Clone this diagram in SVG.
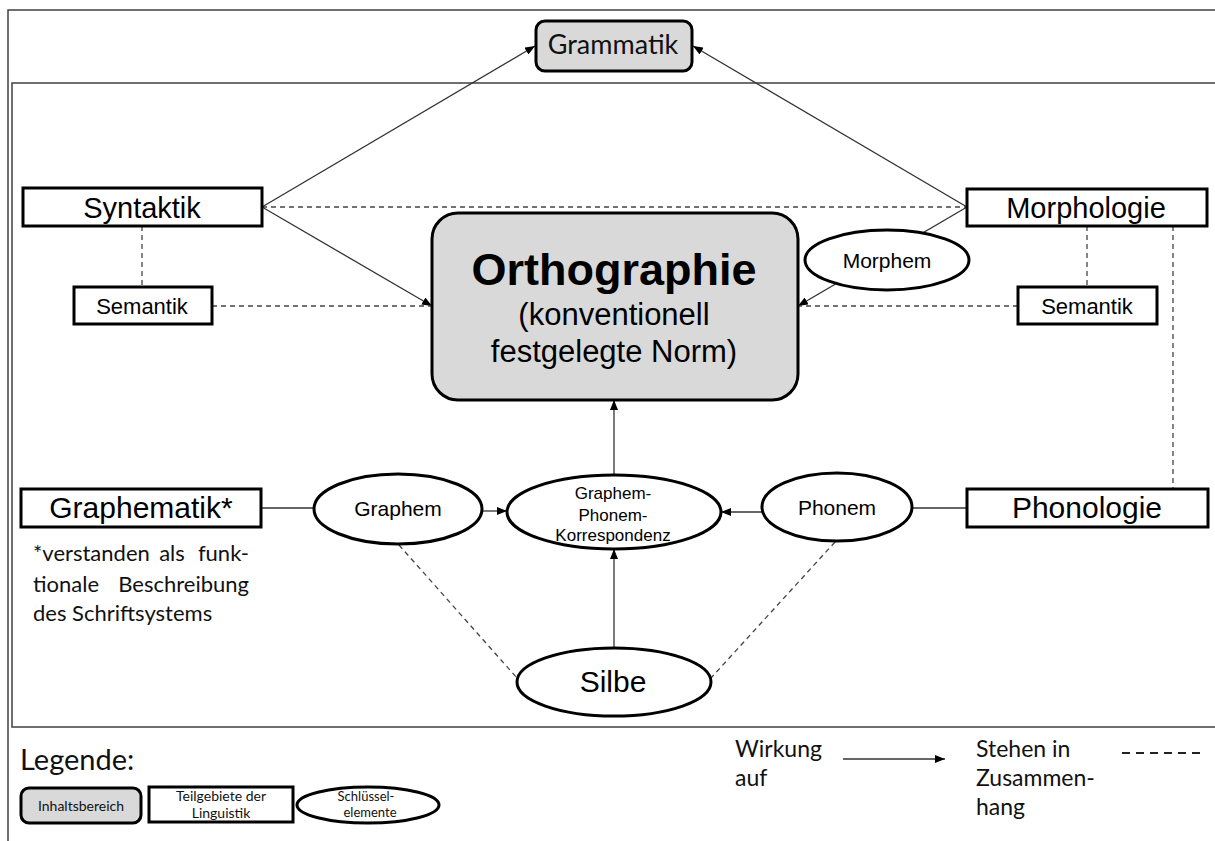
<svg xmlns="http://www.w3.org/2000/svg" width="1215" height="841" viewBox="0 0 1215 841">
<defs>
<marker id="arr" viewBox="0 0 10 8" refX="10" refY="4" markerWidth="10" markerHeight="8" markerUnits="userSpaceOnUse" orient="auto"><path d="M0,0 L10,4 L0,8 z" fill="#000"/></marker>
</defs>
<style>
.frame{fill:none;stroke:#404040;stroke-width:1.5}
.box{fill:#fff;stroke:#000;stroke-width:3}
.gbox{fill:#d9d9d9;stroke:#000;stroke-width:3}
.ell{fill:#fff;stroke:#000;stroke-width:3}
.ar{fill:none;stroke:#333;stroke-width:1.3;marker-end:url(#arr)}
.ln{fill:none;stroke:#333;stroke-width:1.3}
.ds{fill:none;stroke:#444;stroke-width:1.3;stroke-dasharray:5 4}
.a{font-family:"Liberation Sans",Arial,sans-serif;fill:#000;text-anchor:middle}
.c{font-family:Lato,"Open Sans",sans-serif;fill:#111}
.cm{font-family:Lato,"Open Sans",sans-serif;fill:#111;text-anchor:middle}
</style>
<rect width="1215" height="841" fill="#fff"/>
<g id="frames">
<path class="frame" d="M1230,10 H8 V850"/>
<path class="frame" d="M1230,83 H12 V727 H1230"/>
</g>
<g id="connectors">
<path class="ar" d="M262,207 L535,46"/>
<path class="ar" d="M967,207 L693,46"/>
<path class="ds" d="M262,207 H967"/>
<path class="ar" d="M262,207 L432,306"/>
<path class="ar" d="M967,207 L798,306"/>
<path class="ds" d="M142,226 V287"/>
<path class="ds" d="M212,306 H432"/>
<path class="ds" d="M1087,226 V287"/>
<path class="ds" d="M1018,306 H798"/>
<path class="ds" d="M1173,226 V489"/>
<path class="ln" d="M261,508 H314"/>
<path class="ar" d="M483,511 H507"/>
<path class="ar" d="M763,512 H721"/>
<path class="ln" d="M912,508 H967"/>
<path class="ar" d="M614,475 V400"/>
<path class="ar" d="M614,648 V549"/>
<path class="ds" d="M399,545 L517,678"/>
<path class="ds" d="M835,542 L711,678"/>
</g>
<g id="grammatik">
<rect class="gbox" x="536" y="21" width="156" height="50" rx="9"/>
<text class="cm" x="613" y="54" font-size="27">Grammatik</text>
</g>
<g id="orthographie">
<rect class="gbox" x="432" y="213" width="366" height="187" rx="26"/>
<text class="a" x="614" y="285" font-size="45" font-weight="bold">Orthographie</text>
<text class="a" x="614" y="325" font-size="31">(konventionell</text>
<text class="a" x="614" y="362" font-size="31">festgelegte Norm)</text>
</g>
<g id="syntaktik">
<rect class="box" x="23" y="188" width="239" height="38"/>
<text class="a" x="142" y="218" font-size="29">Syntaktik</text>
</g>
<g id="semantik-links">
<rect class="box" x="74" y="287" width="138" height="37"/>
<text class="a" x="142" y="314" font-size="22">Semantik</text>
</g>
<g id="morphologie">
<rect class="box" x="967" y="189" width="240" height="37"/>
<text class="a" x="1086" y="218" font-size="29">Morphologie</text>
</g>
<g id="morphem">
<ellipse class="ell" cx="887" cy="260" rx="82" ry="30"/>
<text class="a" x="887" y="268" font-size="21">Morphem</text>
</g>
<g id="semantik-rechts">
<rect class="box" x="1018" y="287" width="139" height="37"/>
<text class="a" x="1087" y="314" font-size="22">Semantik</text>
</g>
<g id="graphematik">
<rect class="box" x="21" y="489" width="240" height="38"/>
<text class="a" x="141" y="518" font-size="30">Graphematik*</text>
</g>
<g id="fussnote">
<text class="c" x="33" y="561" font-size="22">*verstanden</text>
<text class="c" x="172" y="561" font-size="22" text-anchor="middle">als</text>
<text class="c" x="249" y="561" font-size="22" text-anchor="end">funk-</text>
<text class="c" x="33" y="592" font-size="22">tionale</text>
<text class="c" x="249" y="592" font-size="22" text-anchor="end">Beschreibung</text>
<text class="c" x="33" y="621" font-size="22">des Schriftsystems</text>
</g>
<g id="graphem">
<ellipse class="ell" cx="398" cy="509" rx="84" ry="35"/>
<text class="a" x="398" y="516" font-size="21">Graphem</text>
</g>
<g id="gpk">
<ellipse class="ell" cx="614" cy="512" rx="107" ry="37"/>
<text class="a" x="613" y="499" font-size="17">Graphem-</text>
<text class="a" x="613" y="521" font-size="17">Phonem-</text>
<text class="a" x="613" y="541" font-size="17">Korrespondenz</text>
</g>
<g id="phonem">
<ellipse class="ell" cx="837" cy="507" rx="75" ry="34"/>
<text class="a" x="837" y="515" font-size="21">Phonem</text>
</g>
<g id="phonologie">
<rect class="box" x="967" y="489" width="241" height="38"/>
<text class="a" x="1087" y="518" font-size="30">Phonologie</text>
</g>
<g id="silbe">
<ellipse class="ell" cx="614" cy="682" rx="97" ry="34"/>
<text class="a" x="613" y="692" font-size="30">Silbe</text>
</g>
<g id="legende">
<text class="c" x="20" y="770" font-size="29">Legende:</text>
<rect class="gbox" x="21" y="788" width="120" height="35" rx="8"/>
<text class="cm" x="81" y="811" font-size="14">Inhaltsbereich</text>
<rect class="box" x="149" y="787" width="144" height="35"/>
<text class="cm" x="221" y="801" font-size="14">Teilgebiete der</text>
<text class="cm" x="221" y="818" font-size="14">Linguistik</text>
<ellipse class="ell" cx="368" cy="805" rx="71" ry="18"/>
<text class="cm" x="366" y="801" font-size="13">Schlüssel-</text>
<text class="cm" x="370" y="817" font-size="13">elemente</text>
<text class="c" x="735" y="757" font-size="23">Wirkung</text>
<text class="c" x="735" y="786" font-size="23">auf</text>
<path class="ar" d="M843,759 H945"/>
<text class="c" x="976" y="757" font-size="23">Stehen in</text>
<text class="c" x="976" y="786" font-size="23">Zusammen-</text>
<text class="c" x="976" y="815" font-size="23">hang</text>
<path d="M1122,753 H1206" fill="none" stroke="#222" stroke-width="2" stroke-dasharray="8 6"/>
</g>
</svg>
